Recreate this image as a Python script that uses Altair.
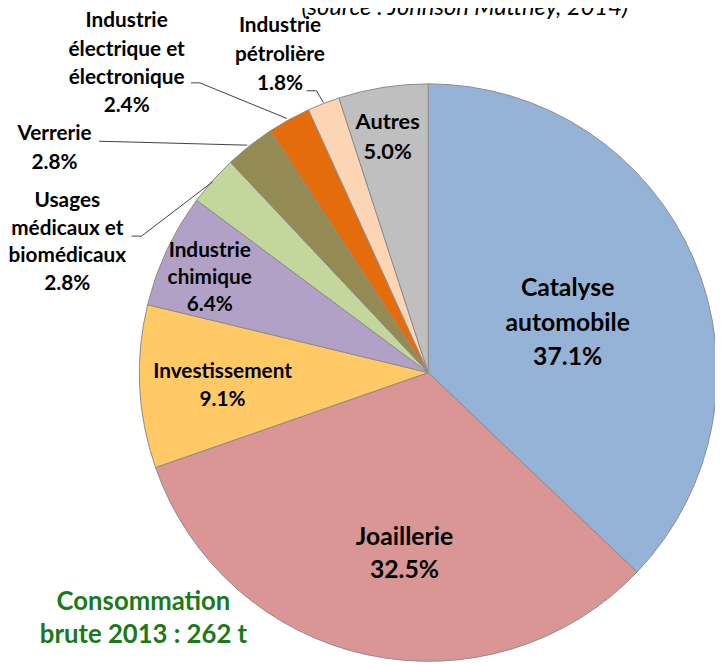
import altair as alt
import pandas as pd

# ---- data ----
categories = [
    "Catalyse automobile",
    "Joaillerie",
    "Investissement",
    "Industrie chimique",
    "Usages médicaux et biomédicaux",
    "Verrerie",
    "Industrie électrique et électronique",
    "Industrie pétrolière",
    "Autres",
]
values = [37.1, 32.5, 9.1, 6.4, 2.8, 2.8, 2.4, 1.8, 5.0]
label_lines = [
    ["Catalyse", "automobile"],
    ["Joaillerie"],
    ["Investissement"],
    ["Industrie", "chimique"],
    ["Usages", "médicaux et", "biomédicaux"],
    ["Verrerie"],
    ["Industrie", "électrique et", "électronique"],
    ["Industrie", "pétrolière"],
    ["Autres"],
]
colors = ["#95B3D7", "#D99694", "#FFC966", "#B2A1C7", "#C3D69B",
          "#948A54", "#E46C0A", "#FCD5B5", "#BFBFBF"]

title_text = "(source : Johnson Matthey, 2014)"
note_lines = ["Consommation", "brute 2013 : 262 t"]

# ---- layout (chart pixel coordinates, origin = top-left of the svg) ----
W, H = 715, 657
CX, CY, R = 425, 365, 292
# per label: x centre, y of first line, line height, font size
label_layout = [
    (566, 280, 34.5, 25),
    (401, 531, 34, 25),
    (217, 364, 29, 21),
    (204, 242, 27.5, 21),
    (60, 192, 27.7, 21),
    (47, 124, 29, 21),
    (120, 10, 28.5, 21),
    (275, 15, 29, 21),
    (384, 112, 30, 22),
]
note_layout = (137, 597, 33, 26)

leaders = [
    [(185, 72), (194, 72), (282, 108)],
    [(302, 80), (312, 80), (319, 92)],
    [(92, 131), (242, 135)],
    [(125, 227), (135, 227), (207, 172)],
]

# ---- tables ----
pie_df = pd.DataFrame({
    "categorie": categories,
    "valeur": values,
    "ordre": list(range(len(categories))),
})

rows = []
for i, cat in enumerate(categories):
    x0, y0, lh, fs = label_layout[i]
    lines = label_lines[i] + [f"{values[i]:.1f}%"]
    for j, ln in enumerate(lines):
        rows.append({"t": ln, "px": x0, "py": y0 + j * lh, "fs": fs, "c": "#000000"})
x0, y0, lh, fs = note_layout
for j, ln in enumerate(note_lines):
    rows.append({"t": ln, "px": x0, "py": y0 + j * lh, "fs": fs, "c": "#1A7A1A"})
text_df = pd.DataFrame(rows)

line_rows = []
for k, pts in enumerate(leaders):
    for j, (x, y) in enumerate(pts):
        line_rows.append({"g": k, "o": j, "px": x, "py": y})
line_df = pd.DataFrame(line_rows)

# ---- chart ----
pie = alt.Chart(pie_df).mark_arc(
    outerRadius=R, stroke="#8C8C8C", strokeWidth=1
).encode(
    theta=alt.Theta("valeur:Q", stack=True),
    order=alt.Order("ordre:Q"),
    color=alt.Color("categorie:N", scale=alt.Scale(domain=categories, range=colors), legend=None),
    x=alt.value(CX),
    y=alt.value(CY),
)

labels = alt.Chart(text_df).mark_text(
    font="Lato", fontWeight="bold", align="center", baseline="middle"
).encode(
    x=alt.X("px:Q", scale=None),
    y=alt.Y("py:Q", scale=None),
    text="t:N",
    size=alt.Size("fs:Q", scale=None, legend=None),
    color=alt.Color("c:N", scale=None),
)

leader_lines = alt.Chart(line_df).mark_line(
    color="#404040", strokeWidth=1
).encode(
    x=alt.X("px:Q", scale=None),
    y=alt.Y("py:Q", scale=None),
    detail="g:N",
    order="o:Q",
)

title = alt.Chart(pd.DataFrame({"t": [title_text]})).mark_text(
    font="Lato", fontStyle="italic", fontSize=24, align="center", baseline="alphabetic"
).encode(
    x=alt.value(462),
    y=alt.value(3),
    text="t:N",
)

chart = alt.layer(pie, leader_lines, labels, title).properties(
    width=W, height=H, autosize=alt.AutoSizeParams(type="none"), padding=0
).configure_view(stroke=None)

chart.save("out.html", embed_options={"renderer": "svg", "actions": False})
